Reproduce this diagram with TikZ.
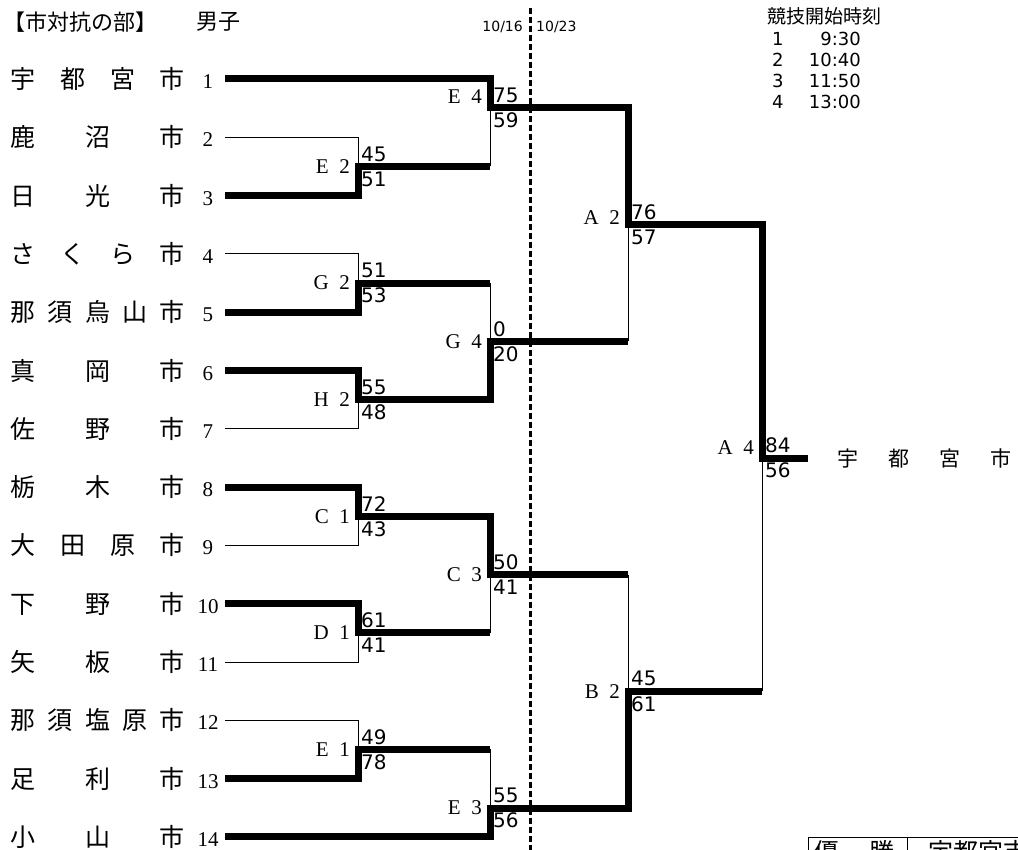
\documentclass[tikz,border=0pt]{standalone}
\usepackage{fontspec}
\newfontfamily\jpfont{Noto Sans CJK JP}
\newfontfamily\gofont{DejaVu Sans}
\newfontfamily\cenfont{Liberation Serif}
\newcommand\sz[1]{\fontsize{#1}{#1}\selectfont}

\begin{document}
\begin{tikzpicture}[x=1pt,y=-1pt,
  win/.style={line width=7pt},
  lose/.style={line width=1pt},
  team/.style={inner sep=0pt,outer xsep=6pt,anchor=east},
  match/.style={inner sep=0pt,anchor=east,font=\cenfont\sz{21}},
  score/.style={inner sep=0pt,anchor=west,font=\gofont\sz{20}}]

  \useasboundingbox (0,0) rectangle (1018,850);
  \fill[white] (0,0) rectangle (1018,850);
  \clip (0,0) rectangle (1018,850);

  % heading and start times
  \node[inner sep=0pt,anchor=west,font=\jpfont\sz{22}] (title) at (3,22) {【市対抗の部】};
  \node[inner sep=0pt,anchor=west,font=\jpfont\sz{22}] (sex) at (196,22) {男子};
  \node[inner sep=0pt,anchor=west,font=\jpfont\sz{19}] (times) at (767,16) {競技開始時刻};
  \foreach \tm [count=\k] in {9:30,10:40,11:50,13:00} {
    \node[inner sep=0pt,anchor=west,font=\gofont\sz{18}] (tno\k) at (772,{39+(\k-1)*21}) {\k};
    \node[inner sep=0pt,anchor=east,font=\gofont\sz{18}] (tm\k) at (861,{39+(\k-1)*21}) {\tm};
  }

  % day split
  \draw[line width=3pt,dash pattern=on 6pt off 3pt] (530,8) -- (530,850);
  \node[inner sep=0pt,anchor=east,font=\gofont\sz{14}] (day1) at (523,27) {10/16};
  \node[inner sep=0pt,anchor=west,font=\gofont\sz{14}] (day2) at (536,27) {10/23};

  % teams
  \foreach \nm/\nu [count=\i] in {宇\hfill 都\hfill 宮\hfill 市/1, 鹿\hfill 沼\hfill 市/2,
      日\hfill 光\hfill 市/3, さ\hfill く\hfill ら\hfill 市/4, 那\hfill 須\hfill 烏\hfill 山\hfill 市/5,
      真\hfill 岡\hfill 市/6, 佐\hfill 野\hfill 市/7, 栃\hfill 木\hfill 市/8,
      大\hfill 田\hfill 原\hfill 市/9, 下\hfill 野\hfill 市/10, 矢\hfill 板\hfill 市/11,
      那\hfill 須\hfill 塩\hfill 原\hfill 市/12, 足\hfill 利\hfill 市/13, 小\hfill 山\hfill 市/14}
    \node[team] (t\i) at (225,{79+(\i-1)*58.3})
      {\makebox[175pt]{\jpfont\sz{25}\nm}\hspace{12pt}\makebox[22pt]{\cenfont\sz{21}\nu}};

  % match points
  \coordinate (e2) at (358,166.45);
  \coordinate (g2) at (358,283.05);
  \coordinate (h2) at (358,399.65);
  \coordinate (c1) at (358,516.25);
  \coordinate (d1) at (358,632.85);
  \coordinate (e1) at (358,749.45);
  \coordinate (e4) at (490,108);
  \coordinate (g4) at (490,341.35);
  \coordinate (c3) at (490,574.55);
  \coordinate (e3) at (490,808);
  \coordinate (a2) at (628,225);
  \coordinate (b2) at (628,691.3);
  \coordinate (a4) at (762,458);
  \coordinate (fin) at (808,458);

  % lost
  \foreach \a/\b in {2/e2,4/g2,7/h2,9/c1,11/d1,12/e1}
    \draw[lose] (t\a.east) -| (\b);
  \foreach \a/\b in {e2/e4,g2/g4,d1/c3,e1/e3,g4/a2,c3/b2,b2/a4}
    \draw[lose] (\a -| \b) -- (\b);

  % won
  \draw[win] (t1.east) -| (e4) -| (a2) -| (a4) -- (fin);
  \draw[win] (t3.east) -| (e2) -- (e2 -| e4);
  \draw[win] (t5.east) -| (g2) -- (g2 -| g4);
  \draw[win] (t6.east) -| (h2) -| (g4) -- (g4 -| a2);
  \draw[win] (t8.east) -| (c1) -| (c3) -- (c3 -| b2);
  \draw[win] (t10.east) -| (d1) -- (d1 -| c3);
  \draw[win] (t13.east) -| (e1) -- (e1 -| e3);
  \draw[win] (t14.east) -| (e3) -| (b2) -- (b2 -| a4);

  % match names and points
  \foreach \c/\lab/\dy/\up/\dn in {e2/E\enspace2/0/45/51, g2/G\enspace2/0/51/53,
      h2/H\enspace2/0/55/48, c1/C\enspace1/0/72/43, d1/D\enspace1/0/61/41,
      e1/E\enspace1/0/49/78, e4/E\enspace4/11/75/59, g4/G\enspace4/0/0/20,
      c3/C\enspace3/0/50/41, e3/E\enspace3/0/55/56, a2/A\enspace2/7/76/57,
      b2/B\enspace2/0/45/61, a4/A\enspace4/10/84/56} {
    \node[match] (\c-m) at ([xshift=-8pt,yshift=\dy pt]\c) {\lab};
    \node[score] (\c-u) at ([xshift=3pt,yshift=12.5pt]\c) {\up};
    \node[score] (\c-d) at ([xshift=3pt,yshift=-12.5pt]\c) {\dn};
  }

  % champion
  \node[inner sep=0pt,anchor=west] (champ) at (837,458)
    {\makebox[174pt]{\jpfont\sz{21}宇\hfill 都\hfill 宮\hfill 市}};

  % result table, cut off by the page
  \draw[lose] (1030,837) -| (808,880);
  \draw[lose] (907,837) -- (907,880);
  \node[inner sep=0pt,anchor=west] (rank) at (814,852) {\makebox[80pt]{\jpfont\sz{25}優\hfill 勝}};
  \node[inner sep=0pt,anchor=west,font=\jpfont\sz{25}] (rname) at (928,852) {宇都宮市};
\end{tikzpicture}
\end{document}
